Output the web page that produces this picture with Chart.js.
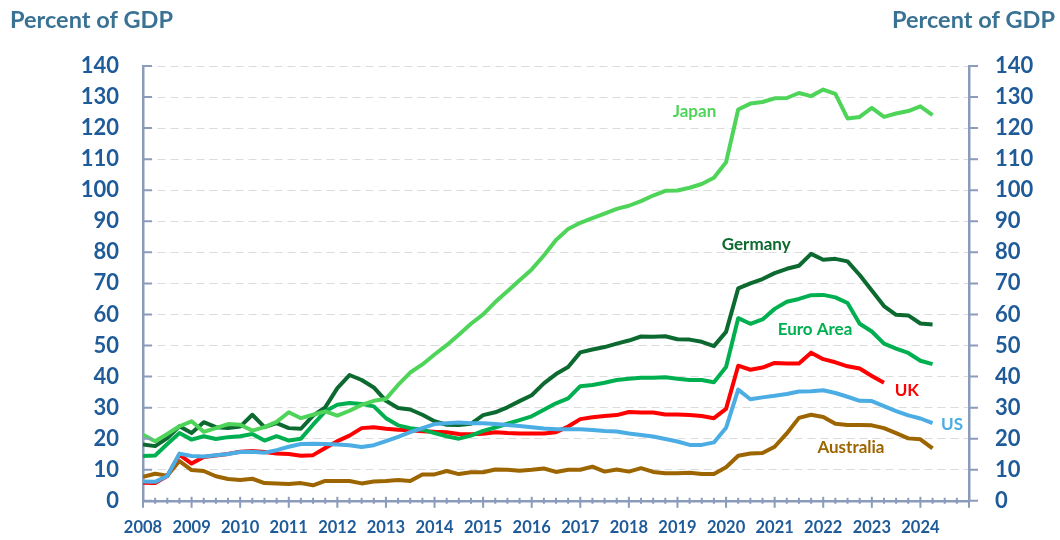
<!DOCTYPE html>
<html>
<head>
<meta charset="utf-8">
<script src="https://cdn.jsdelivr.net/npm/chart.js@4.4.0/dist/chart.umd.min.js"></script>
<style>
  body { margin: 0; background: #ffffff; }
  #wrap { width: 1060px; height: 540px; }
</style>
</head>
<body>
<div id="wrap"><canvas id="chart" width="1060" height="540"></canvas></div>
<script>
// quarterly values, starting 2008 Q1
const japan = [21.3, 19.2, 21.5, 24, 25.6, 22.2, 23.4, 24.7, 24.5, 22.6, 23.7, 25.4, 28.5, 26.6, 27.7, 28.8,
  27.4, 29, 30.9, 32.2, 32.8, 37.3, 41.3, 43.9, 47.1, 50.1, 53.5, 57, 60, 64, 67.5, 71, 74.5, 79, 84, 87.5,
  89.5, 91, 92.5, 94, 95, 96.5, 98.3, 99.8, 99.9, 100.8, 102, 104, 109, 126, 127.9, 128.4, 129.6, 129.7,
  131.3, 130.3, 132.4, 131, 123.1, 123.6, 126.5, 123.6, 124.7, 125.5, 127, 124.2];
const germany = [18.1, 17.6, 20.2, 24, 21.8, 25.3, 23.7, 23.4, 23.9, 27.7, 23.7, 25, 23.4, 23.2, 27.4, 30.1,
  36.3, 40.5, 38.9, 36.5, 32.2, 29.9, 29.4, 27.7, 25.6, 24.5, 24.4, 24.8, 27.6, 28.5, 30.1, 32.1, 34, 37.8,
  40.8, 43.1, 47.8, 48.7, 49.5, 50.6, 51.6, 52.9, 52.8, 53, 52, 51.9, 51.2, 49.8, 54.4, 68.4, 70, 71.4, 73.3,
  74.7, 75.7, 79.5, 77.6, 77.9, 77.1, 72.7, 67.7, 62.7, 59.9, 59.7, 57.1, 56.8];
const euroArea = [14.4, 14.6, 18.3, 21.8, 19.7, 20.8, 19.9, 20.5, 20.8, 21.5, 19.4, 20.8, 19.4, 20, 24.5, 28.8,
  30.9, 31.5, 31.2, 30.4, 26.6, 24.3, 23.4, 22.9, 21.8, 20.8, 20, 21, 22.5, 23.6, 24.8, 26, 27.2, 29.3, 31.4,
  33, 36.9, 37.3, 38, 38.9, 39.3, 39.6, 39.6, 39.8, 39.3, 38.9, 38.9, 38.2, 43.1, 58.8, 57, 58.4, 61.8, 64.1,
  65, 66.2, 66.3, 65.5, 63.7, 57, 54.5, 50.6, 49, 47.6, 45.1, 44];
const uk = [5.8, 5.7, 8, 14.9, 12, 14.1, 14.6, 15.1, 15.8, 16, 15.7, 15.2, 15.1, 14.5, 14.7, 17, 19.2, 21, 23.4,
  23.7, 23.2, 22.9, 22.7, 22.4, 22.2, 22.1, 21.5, 21.4, 21.6, 22.1, 21.8, 21.7, 21.7, 21.7, 22.1, 23.9, 26.3,
  26.9, 27.3, 27.6, 28.6, 28.4, 28.4, 27.8, 27.8, 27.6, 27.3, 26.6, 29.6, 43.5, 42.2, 42.9, 44.4, 44.2, 44.2,
  47.7, 45.6, 44.6, 43.3, 42.6, 40.2, 38];
const us = [6.2, 6.1, 8, 15.2, 14.4, 14.3, 14.7, 15.1, 15.7, 15.8, 15.5, 16.3, 17.4, 18.3, 18.4, 18.3, 18.1,
  17.9, 17.3, 17.9, 19.2, 20.6, 22.1, 23.4, 24.7, 25, 25.2, 25, 25, 24.7, 24.4, 24.1, 23.7, 23.3, 23, 23, 23,
  22.8, 22.5, 22.3, 21.7, 21.2, 20.7, 19.9, 19.1, 18, 18, 18.8, 23.5, 35.8, 32.7, 33.3, 33.8, 34.4, 35.2, 35.3,
  35.6, 34.7, 33.5, 32.2, 32.1, 30.5, 28.9, 27.5, 26.5, 25];
const australia = [7.7, 8.7, 8.1, 12.8, 9.9, 9.6, 7.9, 7, 6.7, 7.1, 5.7, 5.6, 5.4, 5.7, 5, 6.4, 6.4, 6.4, 5.6,
  6.2, 6.4, 6.7, 6.4, 8.5, 8.5, 9.6, 8.6, 9.2, 9.2, 10.1, 10, 9.7, 10, 10.4, 9.3, 10, 10, 11, 9.4, 10.1, 9.4,
  10.5, 9.3, 8.9, 8.9, 9, 8.6, 8.6, 10.8, 14.5, 15.2, 15.4, 17.4, 21.7, 26.7, 27.7, 27, 24.8, 24.4, 24.4, 24.3,
  23.4, 21.8, 20.1, 19.8, 16.9];

const yearLabels = ["2008", "2009", "2010", "2011", "2012", "2013", "2014", "2015", "2016",
  "2017", "2018", "2019", "2020", "2021", "2022", "2023", "2024"];
const firstYear = 2008;
const lastYear = 2025;

// series name labels: [text, year, value, colour]
const seriesLabels = [
  ["Japan", 2019.35, 125.3, "#4fd45a"],
  ["Germany", 2020.62, 82.5, "#0c6a30"],
  ["Euro Area", 2021.83, 55.3, "#00b050"],
  ["UK", 2023.72, 35.5, "#ff0000"],
  ["US", 2024.65, 24.7, "#4bade3"],
  ["Australia", 2022.57, 17.0, "#9c6500"]
];

const toPoints = (arr) => arr.map((v, i) => ({ x: firstYear + i / 4, y: v }));

const FONT = "Lato, 'Open Sans', sans-serif";
const AXIS = "#8b9bbb";
const TICKTXT = "#1f5b99";

const decorations = {
  id: "decorations",
  afterDraw(chart) {
    const { ctx, chartArea, scales } = chart;
    const x = scales.x, y = scales.y;
    ctx.save();
    ctx.strokeStyle = AXIS;
    ctx.lineWidth = 2;
    // quarterly x ticks
    for (let q = 0; q <= (lastYear - firstYear) * 4; q++) {
      const px = x.getPixelForValue(firstYear + q / 4);
      const major = q % 4 === 0;
      ctx.beginPath();
      ctx.moveTo(px, chartArea.bottom - (major ? 4 : 3));
      ctx.lineTo(px, chartArea.bottom + (major ? 7 : 3));
      ctx.stroke();
    }
    // y ticks: left inward, right outward
    for (let v = 0; v <= 140; v += 10) {
      const py = y.getPixelForValue(v);
      ctx.beginPath();
      ctx.moveTo(chartArea.left, py);
      ctx.lineTo(chartArea.left + 9, py);
      ctx.moveTo(chartArea.right, py);
      ctx.lineTo(chartArea.right + 9, py);
      ctx.stroke();
    }
    // titles
    ctx.fillStyle = "#3a7294";
    ctx.font = "bold 23.5px " + FONT;
    ctx.textBaseline = "alphabetic";
    ctx.textAlign = "left";
    ctx.fillText("Percent of GDP", 10, 28);
    ctx.textAlign = "right";
    ctx.fillText("Percent of GDP", 1055, 28);
    // series labels
    ctx.font = "bold 17px " + FONT;
    ctx.textAlign = "center";
    ctx.textBaseline = "middle";
    seriesLabels.forEach(([t, xv, yv, c]) => {
      ctx.fillStyle = c;
      ctx.fillText(t, x.getPixelForValue(xv), y.getPixelForValue(yv));
    });
    ctx.restore();
  }
};

const lineSet = (label, data, color) => ({
  label: label,
  data: toPoints(data),
  borderColor: color,
  backgroundColor: color,
  borderWidth: 4,
  pointRadius: 0,
  tension: 0,
  fill: false,
  borderJoinStyle: "round"
});

const yTicks = {
  stepSize: 10,
  padding: 24,
  color: TICKTXT,
  font: { family: FONT, size: 22, weight: "bold" }
};

new Chart(document.getElementById("chart").getContext("2d"), {
  type: "line",
  data: {
    datasets: [
      lineSet("Japan", japan, "#4fd45a"),
      lineSet("US", us, "#4bade3"),
      lineSet("Germany", germany, "#0c6a30"),
      lineSet("Euro Area", euroArea, "#00b050"),
      lineSet("UK", uk, "#ff0000"),
      lineSet("Australia", australia, "#9c6500")
    ]
  },
  options: {
    responsive: false,
    animation: false,
    layout: { padding: { top: 66, left: 0, right: 0, bottom: 0 } },
    plugins: { legend: { display: false }, tooltip: { enabled: false } },
    scales: {
      x: {
        type: "linear",
        min: firstYear,
        max: lastYear,
        afterFit: (s) => { s.height = 38; },
        border: { color: AXIS, width: 2.5 },
        grid: { display: false, drawTicks: false },
        ticks: {
          stepSize: 1,
          padding: 17,
          maxRotation: 0,
          autoSkip: false,
          color: TICKTXT,
          font: { family: FONT, size: 16.5, weight: "bold" },
          callback: (v) => yearLabels[v - firstYear] || ""
        }
      },
      y: {
        position: "left",
        min: 0,
        max: 140,
        afterFit: (s) => { s.width = 143; },
        // in v4 border.dash sets the dash of the grid lines
        border: { color: AXIS, width: 2.5, dash: [8, 5] },
        grid: { color: "#dcdcdc", lineWidth: 1, drawTicks: false },
        ticks: yTicks
      },
      y2: {
        position: "right",
        min: 0,
        max: 140,
        afterFit: (s) => { s.width = 91; },
        border: { color: AXIS, width: 2.5 },
        grid: { drawOnChartArea: false, drawTicks: false },
        ticks: Object.assign({}, yTicks, { padding: 26 })
      }
    }
  },
  plugins: [decorations]
});
</script>
</body>
</html>
